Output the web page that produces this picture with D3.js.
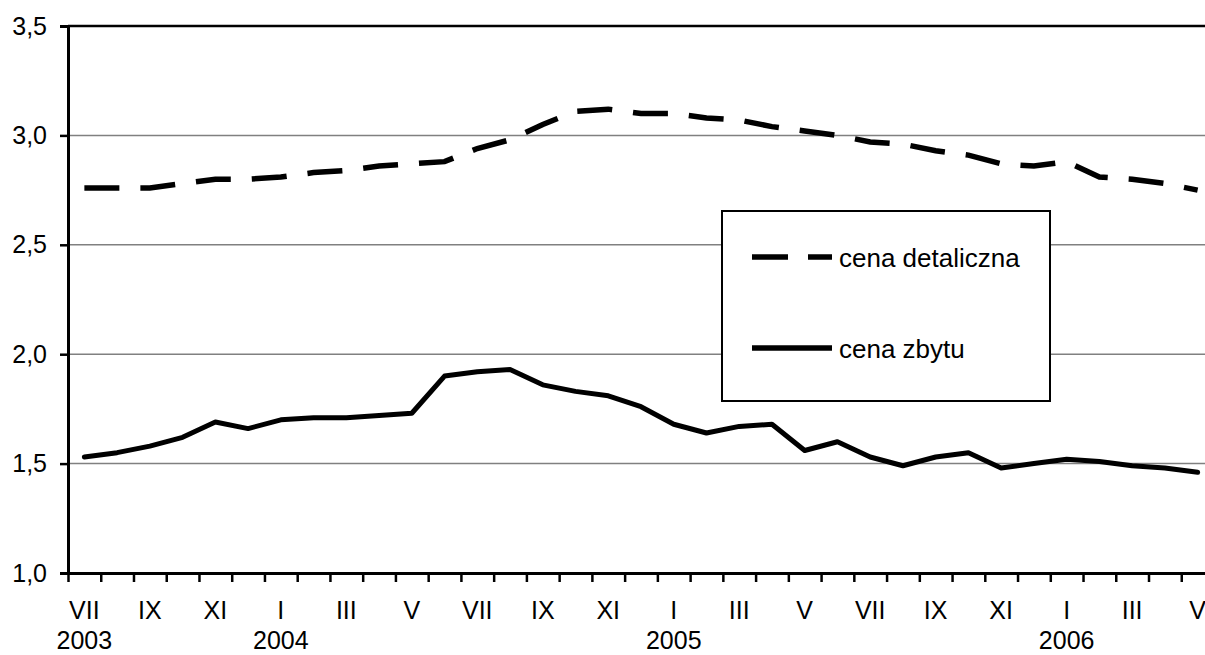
<!DOCTYPE html>
<html>
<head>
<meta charset="utf-8">
<script src="https://cdn.jsdelivr.net/npm/d3@7"></script>
<style>
  html, body { margin: 0; padding: 0; background: #fff; }
  svg { display: block; font-family: "Liberation Sans", Arial, sans-serif; }
</style>
</head>
<body>
<svg id="chart" width="1205" height="655"></svg>
<script>
// ---- data ----
const months = ["VII","VIII","IX","X","XI","XII","I","II","III","IV","V","VI",
                "VII","VIII","IX","X","XI","XII","I","II","III","IV","V","VI",
                "VII","VIII","IX","X","XI","XII","I","II","III","IV","V"];
const years = [
  {index: 0, label: "2003"},
  {index: 6, label: "2004"},
  {index: 18, label: "2005"},
  {index: 30, label: "2006"}
];
const cenaDetaliczna = [2.76,2.76,2.76,2.78,2.80,2.80,2.81,2.83,2.84,2.86,2.87,2.88,
                        2.94,2.98,3.05,3.11,3.12,3.10,3.10,3.08,3.07,3.04,3.02,3.00,
                        2.97,2.96,2.93,2.91,2.87,2.86,2.88,2.81,2.80,2.78,2.75];
const cenaZbytu = [1.53,1.55,1.58,1.62,1.69,1.66,1.70,1.71,1.71,1.72,1.73,1.90,
                   1.92,1.93,1.86,1.83,1.81,1.76,1.68,1.64,1.67,1.68,1.56,1.60,
                   1.53,1.49,1.53,1.55,1.48,1.50,1.52,1.51,1.49,1.48,1.46];
const yTicks = [1.0,1.5,2.0,2.5,3.0,3.5];
const seriesNames = ["cena detaliczna","cena zbytu"];

(function () {
// ---- layout ----
const svg = d3.select("#chart");
const pLeft = 68, pRight = 1214, pTop = 26, pBottom = 573;
const idx = d3.range(months.length);
const x = d3.scaleBand().domain(idx).range([pLeft, pRight]).padding(0);
const xLin = d3.scaleLinear().domain([0, months.length]).range([pLeft, pRight]);
const y = d3.scaleLinear().domain([1, 3.5]).range([pBottom, pTop]);
const fmt = d3.formatLocale({decimal: ",", thousands: " ", grouping: [3], currency: ["", ""]}).format(".1f");
const cx = i => x(i) + x.bandwidth() / 2;

// gridlines
svg.append("g").selectAll("line")
  .data(yTicks.filter(v => v > 1 && v < 3.5))
  .join("line")
  .attr("x1", pLeft).attr("x2", 1205)
  .attr("y1", d => y(d)).attr("y2", d => y(d))
  .attr("stroke", "#808080").attr("stroke-width", 1.5);

// top border
svg.append("line")
  .attr("x1", pLeft).attr("x2", 1205)
  .attr("y1", y(3.5)).attr("y2", y(3.5))
  .attr("stroke", "#000").attr("stroke-width", 2.5);

// y axis
const yAxis = svg.append("g").attr("transform", `translate(${pLeft},0)`)
  .call(d3.axisLeft(y).tickValues(yTicks).tickFormat(fmt).tickSize(8).tickPadding(13));
yAxis.select(".domain").attr("stroke", "#000").attr("stroke-width", 3);
yAxis.selectAll(".tick line").attr("stroke", "#000").attr("stroke-width", 2.5);
yAxis.selectAll(".tick text").attr("font-size", 25).attr("fill", "#000")
  .attr("font-family", "Liberation Sans, Arial, sans-serif");

// x axis
const xAxis = svg.append("g").attr("transform", `translate(0,${pBottom})`)
  .call(d3.axisBottom(xLin).tickValues(d3.range(0, months.length + 1)).tickFormat("").tickSize(9).tickSizeOuter(0));
xAxis.select(".domain").attr("stroke", "#000").attr("stroke-width", 3);
xAxis.selectAll(".tick line").attr("stroke", "#000").attr("stroke-width", 2.5);

// month labels (every second)
svg.append("g").selectAll("text")
  .data(idx.filter(i => i % 2 === 0))
  .join("text")
  .attr("x", d => cx(d)).attr("y", 619)
  .attr("text-anchor", "middle").attr("font-size", 25).attr("fill", "#000")
  .text(d => months[d]);

// year labels
svg.append("g").selectAll("text")
  .data(years)
  .join("text")
  .attr("x", d => cx(d.index)).attr("y", 649)
  .attr("text-anchor", "middle").attr("font-size", 25).attr("fill", "#000")
  .text(d => d.label);

// lines
const line = d3.line().x((d, i) => cx(i)).y(d => y(d));
svg.append("path").datum(cenaDetaliczna)
  .attr("d", line).attr("fill", "none").attr("stroke", "#000")
  .attr("stroke-width", 5.5).attr("stroke-dasharray", "35,21");
svg.append("path").datum(cenaZbytu)
  .attr("d", line).attr("fill", "none").attr("stroke", "#000")
  .attr("stroke-width", 5).attr("stroke-linejoin", "round").attr("stroke-linecap", "round");

// legend
const lg = svg.append("g");
lg.append("rect").attr("x", 722).attr("y", 211).attr("width", 328).attr("height", 190)
  .attr("fill", "#fff").attr("stroke", "#000").attr("stroke-width", 2);
const legendRows = [
  {name: seriesNames[0], yy: 257, dash: "36,20"},
  {name: seriesNames[1], yy: 348, dash: null}
];
legendRows.forEach(r => {
  lg.append("line").attr("x1", 752).attr("x2", 832).attr("y1", r.yy).attr("y2", r.yy)
    .attr("stroke", "#000").attr("stroke-width", 5.5)
    .attr("stroke-dasharray", r.dash);
  lg.append("text").attr("x", 839).attr("y", r.yy + 10)
    .attr("font-size", 26).attr("fill", "#000").text(r.name);
});
})();
</script>
</body>
</html>
